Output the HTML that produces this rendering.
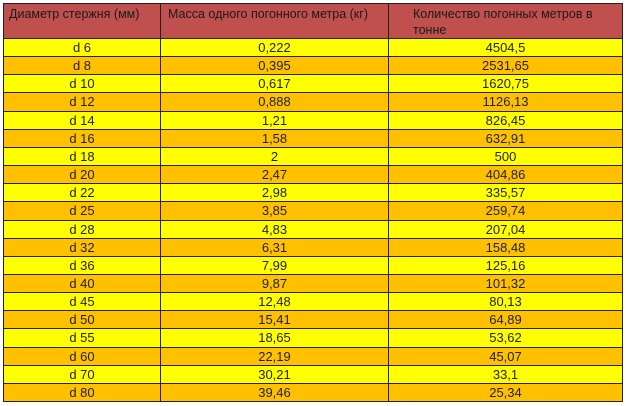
<!DOCTYPE html>
<html><head><meta charset="utf-8"><style>
body{margin:0;background:#fff;width:626px;height:406px;overflow:hidden;font-family:"Liberation Sans",sans-serif;font-size:13px;color:#222}
.c{position:absolute;box-sizing:border-box;border:1px solid #222;text-align:center;white-space:nowrap}
.h{background:#C0504D;color:#1a1a1a;text-align:left;padding:2px 8px 0 5px;line-height:16px;white-space:normal;font-size:12.5px}
</style></head><body>
<div id="t"></div>
<script>
(function(){
var rows=[["d 6","0,222","4504,5"],["d 8","0,395","2531,65"],["d 10","0,617","1620,75"],["d 12","0,888","1126,13"],["d 14","1,21","826,45"],["d 16","1,58","632,91"],["d 18","2","500"],["d 20","2,47","404,86"],["d 22","2,98","335,57"],["d 25","3,85","259,74"],["d 28","4,83","207,04"],["d 32","6,31","158,48"],["d 36","7,99","125,16"],["d 40","9,87","101,32"],["d 45","12,48","80,13"],["d 50","15,41","64,89"],["d 55","18,65","53,62"],["d 60","22,19","45,07"],["d 70","30,21","33,1"],["d 80","39,46","25,34"]];
var xs=[3,160,388,622],h="";
var hd=["Диаметр стержня (мм)","Масса одного погонного метра (кг)","Количество погонных метров в тонне"];
var pl=[5,7,24];
for(var j=0;j<3;j++)h+='<div class="c h" style="left:'+xs[j]+'px;top:3px;width:'+(xs[j+1]-xs[j]+1)+'px;height:36px;padding-left:'+pl[j]+'px">'+hd[j]+'</div>';
var T0=38,rh=(401-38)/20;
rows.forEach(function(r,i){var y=Math.round(T0+i*rh),y2=Math.round(T0+(i+1)*rh);
for(var j=0;j<3;j++)h+='<div class="c" style="left:'+xs[j]+'px;top:'+y+'px;width:'+(xs[j+1]-xs[j]+1)+'px;height:'+(y2-y+1)+'px;background:'+(i%2?'#FFC000':'#FFFF00')+';line-height:'+(y2-y-1)+'px">'+r[j]+'</div>';});
document.getElementById("t").innerHTML=h;
})();
</script>
</body></html>
